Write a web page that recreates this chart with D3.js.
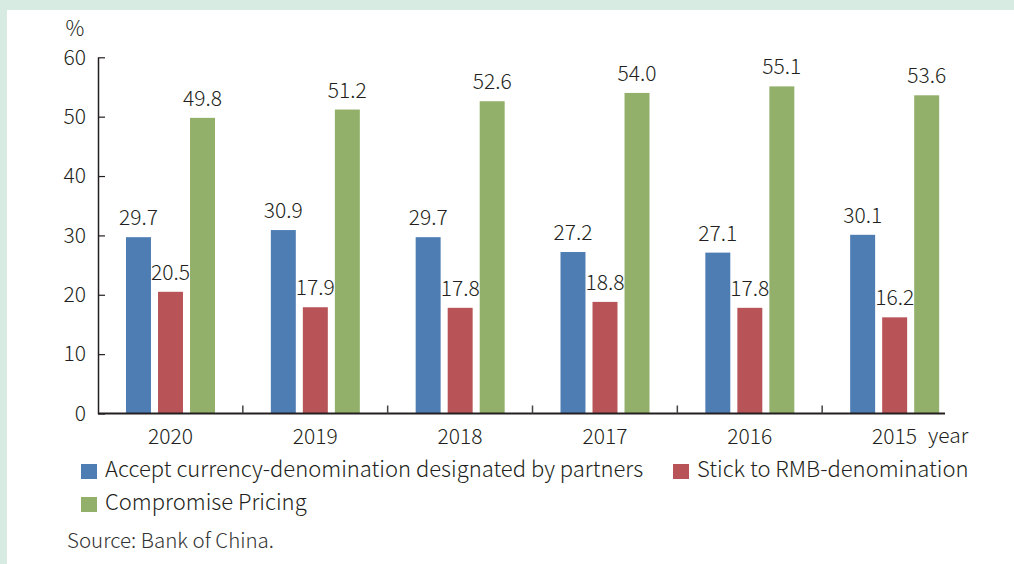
<!DOCTYPE html>
<html>
<head>
<meta charset="utf-8">
<script src="https://cdn.jsdelivr.net/npm/d3@7"></script>
<style>
  html, body { margin: 0; padding: 0; background: #d7ebe3; }
  svg { display: block; }
  text { font-family: "Noto Sans CJK SC", "Noto Sans", sans-serif; font-weight: 300; fill: #231f20; }
</style>
</head>
<body>
<div id="chart"></div>
<script>
// data
var years = ["2020", "2019", "2018", "2017", "2016", "2015"];
var seriesNames = ["Accept currency-denomination designated by partners", "Stick to RMB-denomination", "Compromise Pricing"];
var accept = [29.7, 30.9, 29.7, 27.2, 27.1, 30.1];
var stick = [20.5, 17.9, 17.8, 18.8, 17.8, 16.2];
var compromise = [49.8, 51.2, 52.6, 54.0, 55.1, 53.6];
var yTicks = [0, 10, 20, 30, 40, 50, 60];
var colors = ["#4e7db3", "#b85457", "#93b06a"];

var W = 1014, H = 564;
var svg = d3.select("#chart").append("svg")
            .attr("width", W)
            .attr("height", H);

// white panel inside the green frame
svg.append("rect")
   .attr("x", 7).attr("y", 10)
   .attr("width", W - 7).attr("height", H - 10)
   .style("fill", "white");

var x = d3.scaleBand().domain(years).range([98, 967]).padding(0);
var x1 = d3.scaleBand().domain([0, 1, 2]).range([28, 117]).paddingInner(0.22).paddingOuter(0);
var y = d3.scaleLinear().domain([0, 60]).range([413.5, 57.3]);

var rows = years.map(function(yr, i) {
  return { year: yr, vals: [accept[i], stick[i], compromise[i]] };
});

var g = svg.append("g");

// bars
var grp = g.selectAll("g.yr").data(rows).enter().append("g")
           .attr("class", "yr")
           .attr("transform", function(d) { return "translate(" + x(d.year) + ",0)"; });

grp.selectAll("rect").data(function(d) { return d.vals; }).enter()
   .append("rect")
   .attr("x", function(d, j) { return x1(j); })
   .attr("y", function(d) { return y(d); })
   .attr("width", x1.bandwidth())
   .attr("height", function(d) { return y(0) - y(d); })
   .style("fill", function(d, j) { return colors[j]; });

grp.selectAll("text").data(function(d) { return d.vals; }).enter()
   .append("text")
   .text(function(d) { return d.toFixed(1); })
   .attr("x", function(d, j) { return x1(j) + x1.bandwidth() / 2; })
   .attr("y", function(d) { return y(d) - 12; })
   .attr("text-anchor", "middle")
   .attr("font-size", "21px");

// y axis, ticks point inward
var yAxis = g.append("g")
   .attr("transform", "translate(98,0)")
   .call(d3.axisLeft(y).tickValues(yTicks).tickSizeInner(-7).tickSizeOuter(0).tickPadding(12));
yAxis.select(".domain").attr("stroke", "#231f20").attr("stroke-width", 1.5);
yAxis.selectAll(".tick line").attr("stroke", "#231f20").attr("stroke-width", 1.2);
yAxis.selectAll(".tick text").attr("font-size", "21px").attr("font-family", null).style("fill", "#231f20");

g.append("text").text("%")
 .attr("x", 75).attr("y", 36)
 .attr("text-anchor", "middle")
 .attr("font-size", "21px");

// x axis line (stops short of the last band like the original)
g.append("line")
 .attr("x1", 98).attr("x2", 945)
 .attr("y1", y(0)).attr("y2", y(0))
 .attr("stroke", "#231f20").attr("stroke-width", 2);

g.selectAll("line.xt").data(years.slice(1)).enter()
 .append("line")
 .attr("class", "xt")
 .attr("x1", function(d) { return x(d); })
 .attr("x2", function(d) { return x(d); })
 .attr("y1", y(0)).attr("y2", y(0) - 8)
 .attr("stroke", "#444").attr("stroke-width", 1.5);

g.selectAll("text.xl").data(years).enter()
 .append("text")
 .attr("class", "xl")
 .text(function(d) { return d; })
 .attr("x", function(d) { return x(d) + x.bandwidth() / 2; })
 .attr("y", 444)
 .attr("text-anchor", "middle")
 .attr("font-size", "21px");

g.append("text").text("year")
 .attr("x", 928).attr("y", 443)
 .attr("font-size", "21px");

// legend
var legPos = [[81, 464], [673, 464], [81, 497]];
var leg = g.selectAll("g.leg").data(seriesNames).enter().append("g")
           .attr("class", "leg")
           .attr("transform", function(d, i) { return "translate(" + legPos[i][0] + "," + legPos[i][1] + ")"; });
leg.append("rect")
   .attr("width", 16).attr("height", 15)
   .style("fill", function(d, i) { return colors[i]; });
leg.append("text")
   .text(function(d) { return d; })
   .attr("x", 24).attr("y", 13)
   .attr("font-size", "22px");

g.append("text").text("Source: Bank of China.")
 .attr("x", 67).attr("y", 548)
 .attr("font-family", "Lato, sans-serif")
 .attr("font-weight", 400)
 .attr("font-size", "20.5px")
 .style("fill", "#333");
</script>
</body>
</html>
